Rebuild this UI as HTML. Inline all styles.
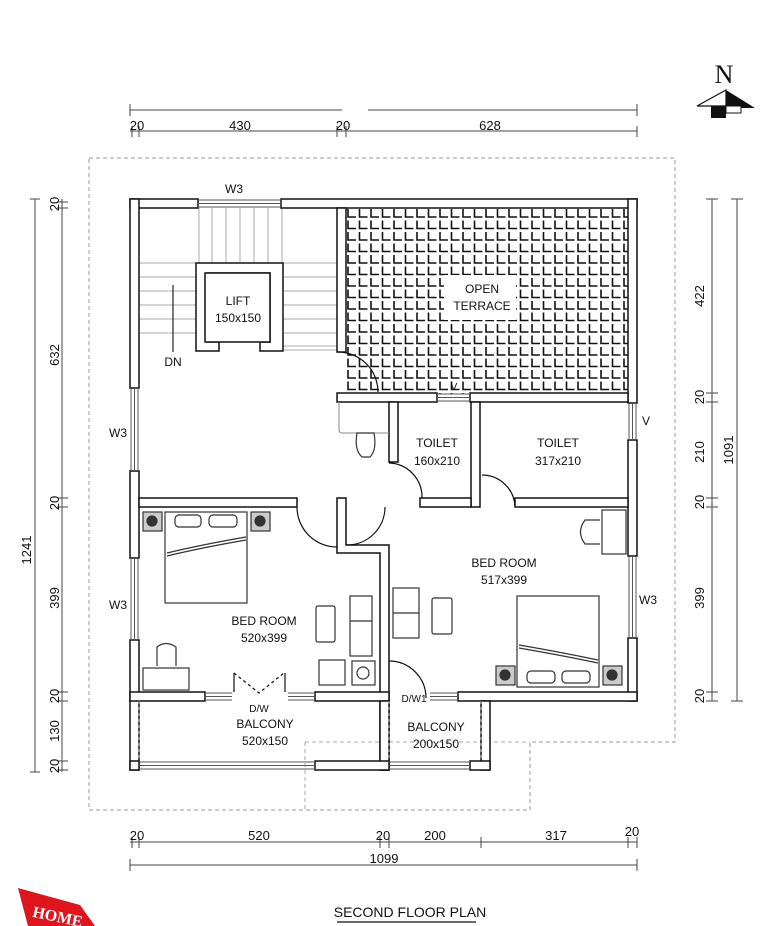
<!DOCTYPE html>
<html><head><meta charset="utf-8"><style>
html,body{margin:0;padding:0;background:#fff}
svg{display:block}
text{font-family:"Liberation Sans",sans-serif;fill:#111}
</style></head><body>
<svg width="781" height="926" viewBox="0 0 781 926" xmlns="http://www.w3.org/2000/svg">
<defs>
<pattern id="tile" x="346" y="208" width="11.5" height="11.5" patternUnits="userSpaceOnUse">
<rect width="11.5" height="11.5" fill="#fff"/>
<path d="M2 1 V9 H10" fill="none" stroke="#111" stroke-width="1.6"/>
</pattern>
</defs>

<path d="M89 158 H675 V742 H530 V810 H89 Z" fill="none" stroke="#999" stroke-width="1" stroke-dasharray="4,3"/>
<path d="M305 742 V810 M305 742 H530" fill="none" stroke="#aaa" stroke-width="1" stroke-dasharray="4,3"/>

<rect x="346" y="208" width="282" height="186" fill="url(#tile)"/>
<rect x="444" y="275" width="72" height="45" fill="#fff"/>

<g stroke="#aaa" stroke-width="1">
<line x1="199" y1="208" x2="199" y2="263"/><line x1="212" y1="208" x2="212" y2="263"/><line x1="226" y1="208" x2="226" y2="263"/><line x1="240" y1="208" x2="240" y2="263"/><line x1="254" y1="208" x2="254" y2="263"/><line x1="268" y1="208" x2="268" y2="263"/><line x1="282" y1="208" x2="282" y2="263"/>
<line x1="139" y1="263" x2="337" y2="263"/><line x1="139" y1="277" x2="196" y2="277"/><line x1="139" y1="291" x2="196" y2="291"/><line x1="139" y1="305" x2="196" y2="305"/><line x1="139" y1="319" x2="196" y2="319"/><line x1="139" y1="333" x2="196" y2="333"/>
<line x1="283" y1="277" x2="337" y2="277"/><line x1="283" y1="291" x2="337" y2="291"/><line x1="283" y1="305" x2="337" y2="305"/><line x1="283" y1="319" x2="337" y2="319"/><line x1="283" y1="333" x2="337" y2="333"/>
<line x1="283" y1="346" x2="337" y2="346"/><line x1="283" y1="350" x2="337" y2="350"/>
</g>
<line x1="173" y1="285" x2="173" y2="352" stroke="#222" stroke-width="1.2"/>

<path d="M196 263 H283 V351 H260 V342 H270 V273 H208 V342 H219 V351 H196 Z" fill="#fff" stroke="#111" stroke-width="1.5"/>
<rect x="205" y="273" width="65" height="69" fill="#fff" stroke="#111" stroke-width="1.5"/>

<g fill="#fff" stroke="#111" stroke-width="1.5">
<rect x="130" y="199" width="68" height="9"/>
<rect x="281" y="199" width="356" height="9"/>
<rect x="130" y="199" width="9" height="189"/>
<rect x="130" y="471" width="9" height="87"/>
<rect x="130" y="640" width="9" height="130"/>
<rect x="628" y="199" width="9" height="204"/>
<rect x="628" y="440" width="9" height="116"/>
<rect x="628" y="638" width="9" height="63"/>
<rect x="337" y="208" width="9" height="144"/>
<rect x="337" y="393" width="100" height="9"/>
<rect x="470" y="393" width="158" height="9"/>
<rect x="389" y="402" width="9" height="60"/>
<rect x="471" y="402" width="9" height="105"/>
<rect x="420" y="498" width="51" height="9"/>
<rect x="515" y="498" width="113" height="9"/>
<rect x="139" y="498" width="158" height="9"/>
<path d="M337 498 H346 V545 H389 V770 H380 V553 H337 Z"/>
<rect x="130" y="692" width="75" height="9"/>
<rect x="315" y="692" width="74" height="9"/>
<rect x="458" y="692" width="179" height="9"/>
<rect x="380" y="701" width="9" height="69"/>
<rect x="481" y="701" width="9" height="69"/>
<rect x="130" y="761" width="9" height="9"/>
<rect x="315" y="761" width="74" height="9"/>
<rect x="470" y="761" width="20" height="9"/>
</g>

<g stroke="#555" stroke-width="1" fill="none">
<path d="M198 200 H281 M198 203.5 H281 M198 207 H281"/>
<path d="M131 388 V471 M134.5 388 V471 M138 388 V471"/>
<path d="M131 558 V640 M134.5 558 V640 M138 558 V640"/>
<path d="M629 403 V440 M632.5 403 V440 M636 403 V440"/>
<path d="M629 556 V638 M632.5 556 V638 M636 556 V638"/>
<path d="M205 693 H232 M205 696.5 H232 M205 700 H232"/>
<path d="M288 693 H315 M288 696.5 H315 M288 700 H315"/>
<path d="M430 693 H458 M430 696.5 H458 M430 700 H458"/>
<path d="M437 394 H470 M437 397.5 H470 M437 401 H470"/>
<path d="M139 762 H315 M139 765.5 H315 M139 769 H315"/>
<path d="M389 762 H470 M389 765.5 H470 M389 769 H470"/>
<path d="M139 701 V761 M389 701 V761 M481 701 V761" stroke="#999" stroke-dasharray="3,3"/>
</g>

<g fill="none" stroke="#111" stroke-width="1.2">
<path d="M338 352 A40 40 0 0 1 378 392"/>
<path d="M389 463 A34 34 0 0 1 422 498"/>
<path d="M482 475 A33 33 0 0 1 515 507"/>
<path d="M297 507 A40 40 0 0 0 337 547"/>
<path d="M385 507 A38 38 0 0 1 347 545"/>
<path d="M389 661 A37 37 0 0 1 426 698"/>
<path d="M234 673 L259 693 L284 673" stroke-dasharray="3,3"/>
<path d="M234 673 V692 M285 673 V692"/>
</g>
<path d="M339 402 V430 A3 3 0 0 0 342 433 H389" fill="none" stroke="#888"/>

<g fill="none" stroke="#333" stroke-width="1.2">
<rect x="165" y="512" width="82" height="91"/>
<path d="M167 553 Q200 545 246 537"/><path d="M167 556 Q200 548 246 540"/>
<rect x="175" y="515" width="26" height="12" rx="4"/><rect x="209" y="515" width="28" height="12" rx="4"/>
<rect x="143" y="512" width="19" height="19" fill="#ccc"/><circle cx="152" cy="521" r="5" fill="#333"/>
<rect x="251" y="512" width="19" height="19" fill="#ccc"/><circle cx="260" cy="521" r="5" fill="#333"/>
<rect x="517" y="596" width="82" height="91"/>
<path d="M519 645 Q560 652 598 660"/><path d="M519 648 Q560 655 598 663"/>
<rect x="527" y="671" width="28" height="12" rx="4"/><rect x="562" y="671" width="28" height="12" rx="4"/>
<rect x="496" y="666" width="19" height="19" fill="#ccc"/><circle cx="505" cy="675" r="5" fill="#333"/>
<rect x="603" y="666" width="19" height="19" fill="#ccc"/><circle cx="612" cy="675" r="5" fill="#333"/>
<rect x="316" y="606" width="19" height="36" rx="2"/>
<rect x="350" y="596" width="22" height="60"/><line x1="350" y1="621" x2="372" y2="621"/>
<rect x="319" y="660" width="26" height="25"/><rect x="352" y="661" width="23" height="24"/><circle cx="363" cy="673" r="6"/>
<rect x="143" y="668" width="46" height="22"/><path d="M157 666 V647 Q166 640 176 647 V666"/>
<rect x="393" y="588" width="26" height="50"/><line x1="393" y1="613" x2="419" y2="613"/>
<rect x="432" y="598" width="20" height="36" rx="2"/>
<rect x="602" y="510" width="24" height="44"/><path d="M600 520 H585 Q576 532 585 544 H600"/>
<path d="M357 433 Q354 450 362 457 H370 Q377 450 374 433 Z"/>
</g>

<g font-size="12" text-anchor="middle">
<text x="234" y="193">W3</text>
<text x="238" y="305">LIFT</text><text x="238" y="322">150x150</text>
<text x="173" y="366">DN</text>
<text x="482" y="293">OPEN</text><text x="482" y="310">TERRACE</text>
<text x="454" y="390" font-size="10">V</text>
<text x="437" y="447">TOILET</text><text x="437" y="465">160x210</text>
<text x="558" y="447">TOILET</text><text x="558" y="465">317x210</text>
<text x="646" y="425">V</text>
<text x="118" y="437">W3</text><text x="118" y="609">W3</text>
<text x="648" y="604">W3</text>
<text x="264" y="625">BED ROOM</text><text x="264" y="642">520x399</text>
<text x="504" y="567">BED ROOM</text><text x="504" y="584">517x399</text>
<text x="259" y="712" font-size="10">D/W</text>
<text x="265" y="728">BALCONY</text><text x="265" y="745">520x150</text>
<text x="414" y="702" font-size="10">D/W1</text>
<text x="436" y="731">BALCONY</text><text x="436" y="748">200x150</text>
</g>

<g stroke="#444" stroke-width="1" fill="none">
<path d="M130 110 H342 M368 110 H637 M130 104 V116 M637 104 V116"/>
<path d="M130 131 H637 M132 126 V137 M139 126 V137 M337 126 V137 M346 126 V137 M637 126 V137"/>
<path d="M130 842 H637 M132 837 V848 M139 837 V848 M380 837 V848 M389 837 V848 M481 837 V848 M628 837 V848 M637 837 V848"/>
<path d="M130 865 H637 M130 859 V871 M637 859 V871"/>
<path d="M35 199 V772 M30 199 H40 M30 772 H40"/>
<path d="M62 199 V772 M57 202 H68 M57 208 H68 M57 498 H68 M57 507 H68 M57 692 H68 M57 701 H68 M57 761 H68 M57 770 H68"/>
<path d="M712 199 V701 M706 199 H718 M706 701 H718 M706 393 H718 M706 402 H718 M706 498 H718 M706 507 H718 M706 692 H718"/>
<path d="M737 199 V701 M731 199 H743 M731 701 H743"/>
</g>
<g font-size="13" text-anchor="middle" fill="#222">
<text x="137" y="130">20</text><text x="240" y="130">430</text><text x="343" y="130">20</text><text x="490" y="130">628</text>
<text x="137" y="840">20</text><text x="259" y="840">520</text><text x="383" y="840">20</text><text x="435" y="840">200</text><text x="556" y="840">317</text><text x="632" y="836">20</text>
<text x="384" y="863">1099</text>
<text transform="translate(31,550) rotate(-90)">1241</text>
<text transform="translate(59,204) rotate(-90)">20</text>
<text transform="translate(59,355) rotate(-90)">632</text>
<text transform="translate(59,503) rotate(-90)">20</text>
<text transform="translate(59,598) rotate(-90)">399</text>
<text transform="translate(59,696) rotate(-90)">20</text>
<text transform="translate(59,731) rotate(-90)">130</text>
<text transform="translate(59,766) rotate(-90)">20</text>
<text transform="translate(733,450) rotate(-90)">1091</text>
<text transform="translate(704,296) rotate(-90)">422</text>
<text transform="translate(704,397) rotate(-90)">20</text>
<text transform="translate(704,452) rotate(-90)">210</text>
<text transform="translate(704,502) rotate(-90)">20</text>
<text transform="translate(704,598) rotate(-90)">399</text>
<text transform="translate(704,696) rotate(-90)">20</text>
</g>

<text x="724" y="83" font-size="26" text-anchor="middle" style="font-family:'Liberation Serif',serif">N</text>
<path d="M697 106 L726 90 V106 Z" fill="#fff" stroke="#111" stroke-width="1.2"/>
<path d="M726 90 L755 108 H726 Z" fill="#111"/>
<rect x="711" y="106" width="15" height="12" fill="#111"/>
<rect x="726" y="106" width="15" height="7" fill="#fff" stroke="#111"/>

<text x="410" y="917" font-size="14" text-anchor="middle">SECOND FLOOR PLAN</text>
<line x1="337" y1="922" x2="476" y2="922" stroke="#111" stroke-width="1.2"/>

<path d="M18 888 L80 905 L95 926 H28 Z" fill="#e0141c"/>
<text x="58" y="922" font-size="16" font-weight="bold" transform="rotate(12 58 915)" text-anchor="middle" style="fill:#fff;font-family:'Liberation Serif',serif">HOME</text>
</svg>
</body></html>
